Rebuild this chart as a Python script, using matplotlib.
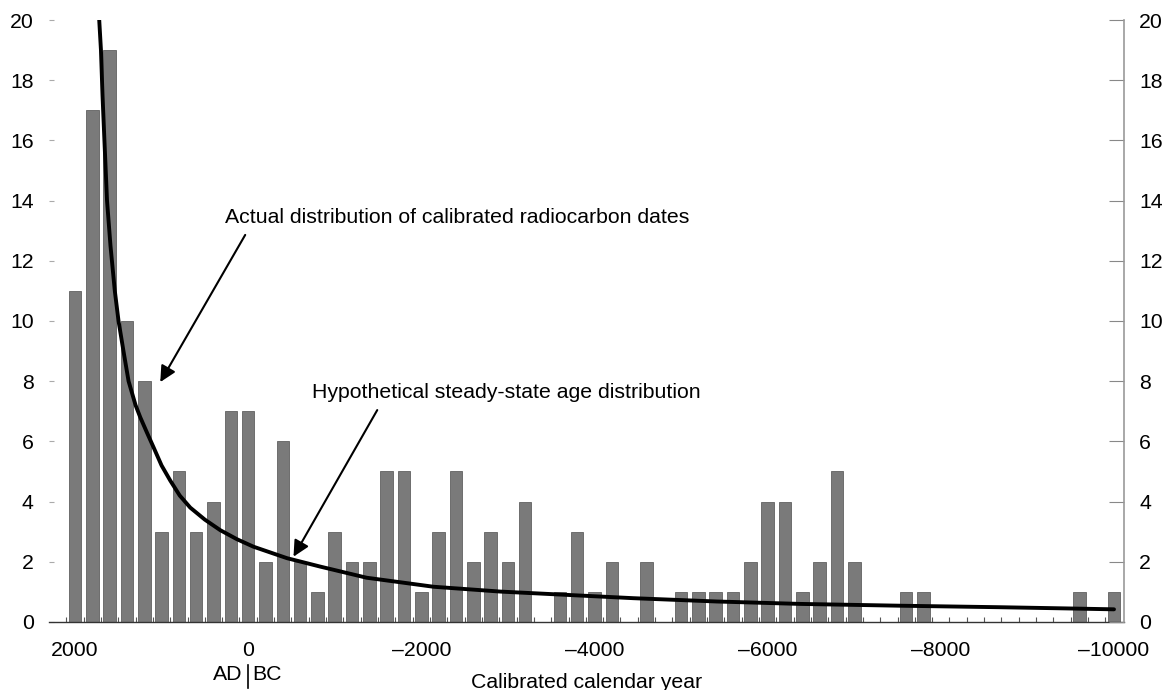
import numpy as np
import matplotlib.pyplot as plt
from matplotlib.transforms import blended_transform_factory

plt.rcParams['font.family'] = ['Liberation Sans', 'DejaVu Sans']

# 200-year bins, AD positive / BC negative
years = np.arange(2000, -10001, -200)
counts = [11, 17, 19, 10, 8, 3, 5, 3, 4, 7, 7, 2, 6, 2, 1, 3, 2, 2, 5, 5,
          1, 3, 5, 2, 3, 2, 4, 0, 1, 3, 1, 2, 0, 2, 0, 1, 1, 1, 1, 2,
          4, 4, 1, 2, 5, 2, 0, 0, 1, 1, 0, 0, 0, 0, 0, 0, 0, 0, 1, 0, 1]

# hypothetical steady-state curve
curve_year = [1735, 1720, 1700, 1682, 1660, 1630, 1590, 1540, 1497, 1440, 1381, 1300, 1246,
              1170, 1092, 1000, 900, 790, 669, 500, 322, 130, -62, -448, -832, -1368,
              -2141, -2911, -3680, -4450, -5413, -6373, -7528, -8682, -9454, -10000]
curve_val = [21, 20, 19, 17.5, 16, 14, 12.5, 11, 10, 9, 8, 7.2, 6.8,
             6.3, 5.8, 5.2, 4.7, 4.2, 3.8, 3.4, 3.05, 2.75, 2.5, 2.12, 1.84, 1.47,
             1.17, 1.01, 0.9, 0.79, 0.68, 0.6, 0.54, 0.49, 0.45, 0.42]

xticks = [2000, 0, -2000, -4000, -6000, -8000, -10000]
xticklabels = ['2000', '0', '\u20132000', '\u20134000', '\u20136000', '\u20138000', '\u201310000']
yticks = list(range(0, 21, 2))

fig = plt.figure(figsize=(11.64, 6.9), dpi=100)
ax = fig.add_axes([0.0421, 0.0986, 0.9235, 0.8724])

ax.bar(years, counts, width=145, color='#7a7a7a', edgecolor='#606060', linewidth=0.6, zorder=2)
ax.plot(curve_year, curve_val, color='black', lw=2.8, zorder=3,
        solid_capstyle='round', solid_joinstyle='round')

ax.set_xlim(2300, -10115)
ax.set_ylim(0, 20)

ax.set_xticks(xticks)
ax.set_xticklabels(xticklabels, fontsize=15.3)
ax.set_xticks(np.arange(2100, -10100, -200), minor=True)
ax.tick_params(axis='x', which='major', length=0, pad=14)
ax.tick_params(axis='x', which='minor', direction='in', length=3.5, color='#555555', width=0.8)
ax.set_yticks(yticks)
ax.tick_params(axis='y', direction='in', length=3.5, color='#aaaaaa', labelsize=15.3, pad=11)

ax2 = ax.twinx()
ax2.set_ylim(0, 20)
ax2.set_yticks(yticks)
ax2.tick_params(axis='y', direction='in', length=11, color='#888888', labelsize=15.3, pad=11)

for a in (ax, ax2):
    a.spines['top'].set_visible(False)
    a.spines['left'].set_visible(False)
ax.spines['right'].set_visible(False)
ax2.spines['bottom'].set_visible(False)
ax2.spines['right'].set_color('#999999')
ax2.spines['right'].set_linewidth(1.2)
ax.spines['bottom'].set_color('#333333')
ax.spines['bottom'].set_linewidth(1.0)

ax.set_xlabel('Calibrated calendar year', fontsize=15.3, labelpad=9)

# AD | BC marker under year 0
tr = blended_transform_factory(ax.transData, ax.transAxes)
ax.annotate('AD', xy=(0, -0.088), xycoords=tr, xytext=(-4, 0), textcoords='offset points',
            ha='right', va='center', fontsize=15.3)
ax.annotate('BC', xy=(0, -0.088), xycoords=tr, xytext=(3, 0), textcoords='offset points',
            ha='left', va='center', fontsize=15.3)
ax.plot([0, 0], [-0.072, -0.11], transform=tr, color='black', lw=1.2, clip_on=False)

ax.text(264, 13.45, 'Actual distribution of calibrated radiocarbon dates',
        fontsize=15.3, ha='left', va='center')
ax.text(-740, 7.64, 'Hypothetical steady-state age distribution',
        fontsize=15.3, ha='left', va='center')

arrow = dict(arrowstyle='-|>', color='black', lw=1.5, mutation_scale=24, shrinkA=0, shrinkB=0)
ax.annotate('', xy=(1015, 7.97), xytext=(34, 12.86), arrowprops=arrow)
ax.annotate('', xy=(-524, 2.17), xytext=(-1491, 7.04), arrowprops=arrow)

fig.savefig('out.png', dpi=100)
